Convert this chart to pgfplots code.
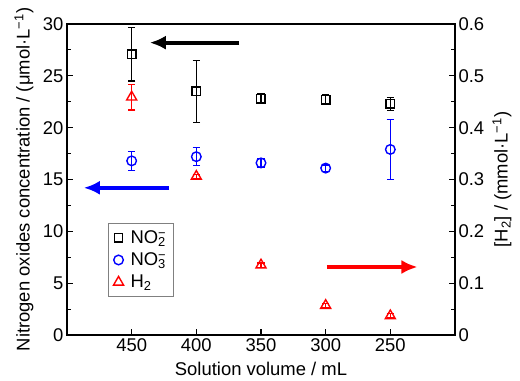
\documentclass[border=0pt]{standalone}
\usepackage{fontspec}
\setmainfont{Liberation Sans}
\usepackage{pgfplots}
\usepackage{pgfplotstable}
\pgfplotsset{compat=1.18}
\usetikzlibrary{arrows.meta}

\pgfplotstableread{
x y e
450 27.1 2.6
400 23.5 3.0
350 22.8 0.5
300 22.7 0.45
250 22.3 0.65
}\nitrite
\pgfplotstableread{
x y e
450 16.8 0.9
400 17.2 0.85
350 16.6 0.4
300 16.1 0.3
250 17.9 2.9
}\nitrate
\pgfplotstableread{
x y e
450 0.459 0.025
400 0.306 0.004
350 0.135 0.004
300 0.057 0.004
250 0.037 0.004
}\hydrogen

\newcommand{\fs}{\fontsize{18.5}{21}\selectfont}
\pgfplotsset{
  common/.style={
    width=388bp, height=311bp, scale only axis,
    at={(0,0)}, anchor=south west,
    xmin=200, xmax=500, x dir=reverse,
    tick align=inside,
    major tick length=6bp, minor tick length=4bp,
    every tick/.style={black, line width=1.1bp},
    axis line style={line width=1.3bp},
    tick label style={font=\fs},
    label style={font=\fs},
    /pgf/number format/assume math mode=true,
    xtick={250,300,350,400,450},
  },
  ebar/.style={
    error bars/.cd, y dir=both, y explicit,
    error bar style={line width=1.1bp},
    error mark options={rotate=90, mark size=3.8bp, line width=1.1bp},
  },
}

\begin{document}
\begin{tikzpicture}[font=\fs]
\useasboundingbox (-67bp,-46bp) rectangle (453bp,335bp);
\begin{axis}[common,
  ymin=0, ymax=30, ytick={0,5,...,30}, minor y tick num=1,
  xtick pos=bottom, ytick pos=left,
  xlabel={Solution volume / mL},
  ylabel={Nitrogen oxides concentration / (μmol·L\textsuperscript{−1})},
  every axis y label/.style={at={(rel axis cs:0,0.5)}, xshift=-43bp, rotate=90, anchor=center},
  every axis x label/.style={at={(rel axis cs:0.5,0)}, yshift=-34bp, anchor=center},
]
\addplot[only marks, black, mark=square, mark size=4.2bp, line width=1.4bp, ebar]
  table[x=x, y=y, y error=e] {\nitrite};
\addplot[only marks, blue, mark=o, mark size=4.8bp, line width=1.4bp, ebar]
  table[x=x, y=y, y error=e] {\nitrate};
\draw[black, line width=4bp, -{Latex[length=16bp,width=14bp]}] (axis cs:367,28.2) -- (axis cs:436,28.2);
\draw[blue, line width=4bp, -{Latex[length=16bp,width=14bp]}] (axis cs:421,14.2) -- (axis cs:487,14.2);
\draw[red, line width=4bp, -{Latex[length=16bp,width=14bp]}] (axis cs:299,6.56) -- (axis cs:229,6.56);
\end{axis}
\begin{axis}[common,
  ymin=0, ymax=0.6, ytick={0,0.1,...,0.6}, minor y tick num=1,
  axis y line*=right, axis x line=none,
  yticklabel style={/pgf/number format/fixed, /pgf/number format/precision=1},
  ylabel={[H\textsubscript{2}] / (mmol·L\textsuperscript{−1})},
  every axis y label/.style={at={(rel axis cs:1,0.5)}, xshift=47bp, rotate=90, anchor=center},
  legend style={at={(0.106,0.36)}, anchor=north west, draw=gray, line width=0.8bp,
    font=\fs, row sep=4bp, inner ysep=5bp, inner xsep=5bp},
  legend cell align=left,
]
\addlegendimage{only marks, black, mark=square, mark size=4.2bp, line width=1.4bp}
\addlegendentry{\hspace{5bp}NO\rlap{\textsubscript{2}}\textsuperscript{−}\hspace{2bp}}
\addlegendimage{only marks, blue, mark=o, mark size=4.8bp, line width=1.4bp}
\addlegendentry{\hspace{5bp}NO\rlap{\textsubscript{3}}\textsuperscript{−}\hspace{2bp}}
\addplot[only marks, red, mark=triangle, mark size=5.8bp, line width=1.4bp, ebar]
  table[x=x, y=y, y error=e] {\hydrogen};
\addlegendentry{\hspace{5bp}H\textsubscript{2}}
\end{axis}
\end{tikzpicture}
\end{document}
